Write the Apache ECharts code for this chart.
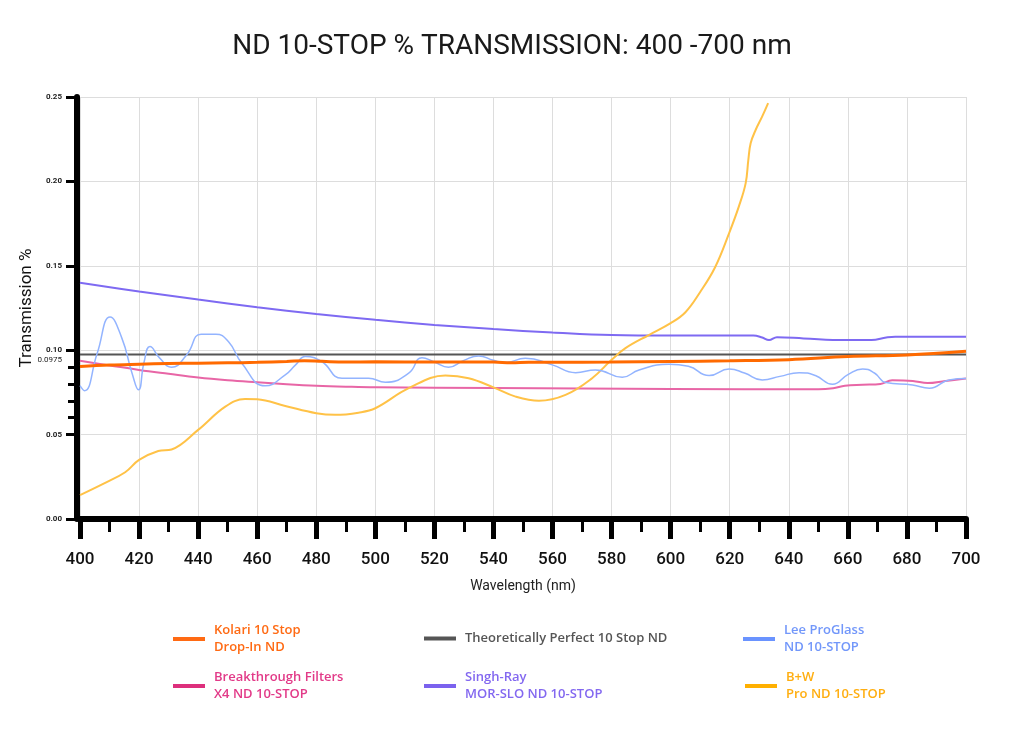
<!DOCTYPE html>
<html><head><meta charset="utf-8">
<script src="https://cdn.jsdelivr.net/npm/echarts@6/dist/echarts.min.js"></script>
<style>html,body{margin:0;padding:0;background:#fff}#c{width:1024px;height:750px}</style>
</head><body><div id="c"></div>
<script>
// ---- data ----
const titleText = 'ND 10-STOP % TRANSMISSION: 400 -700 nm';
const yTicks = [0, 0.05, 0.10, 0.15, 0.20, 0.25];
const yMinorTicks = [0.06, 0.07, 0.08, 0.09];
const perfectValue = 0.0975;

const kolariNm  = [400, 410, 420, 430, 440, 450, 460, 470, 476, 482, 490, 500, 520, 540, 546, 552, 560, 580, 600, 620, 640, 660, 680, 700];
const kolariVal = [0.0903, 0.0912, 0.0917, 0.0921, 0.0923, 0.0925, 0.0928, 0.0933, 0.0938, 0.0934, 0.0930, 0.0931, 0.0930, 0.0930, 0.0925, 0.0929, 0.0929, 0.0930, 0.0933, 0.0937, 0.0944, 0.0962, 0.0972, 0.0994];

const perfectNm  = [400, 700];
const perfectVal = [perfectValue, perfectValue];

const leeNm  = [400, 401.5, 405.8, 410.2, 414.2, 417.6, 419.8, 421.7, 423.7, 427, 431, 436.1, 441, 446, 450.3, 454.8, 462.7, 469.5, 473, 476.3, 481.8, 488.7, 497.7, 503.4, 511.3, 515.8, 520, 524.8, 530, 535, 540, 544.1, 550.8, 559.9, 567.8, 574.6, 583.6, 589.3, 599.4, 606, 613, 619.8, 625, 631, 637, 643.5, 649, 654.8, 660, 665, 669, 672.9, 681.9, 687.6, 694.3, 700];
const leeVal = [0.0790, 0.0760, 0.0980, 0.1196, 0.1070, 0.0865, 0.0765, 0.0930, 0.1022, 0.0953, 0.0899, 0.0972, 0.1095, 0.1095, 0.1050, 0.0923, 0.0789, 0.0854, 0.0913, 0.0962, 0.0933, 0.0834, 0.0834, 0.0810, 0.0864, 0.0956, 0.0930, 0.0899, 0.0940, 0.0966, 0.0940, 0.0927, 0.0953, 0.0913, 0.0867, 0.0883, 0.0840, 0.0883, 0.0917, 0.0905, 0.0850, 0.0889, 0.0865, 0.0824, 0.0845, 0.0867, 0.0850, 0.0798, 0.0855, 0.0889, 0.0865, 0.0808, 0.0794, 0.0775, 0.0824, 0.0832];

const breakNm  = [400, 410, 420, 430, 440, 450, 460, 470, 480, 490, 500, 540, 600, 650, 655, 659, 665, 671, 675, 682, 687, 693, 700];
const breakVal = [0.0937, 0.0910, 0.0883, 0.0860, 0.0838, 0.0822, 0.0810, 0.0799, 0.0790, 0.0784, 0.0780, 0.0776, 0.0770, 0.0769, 0.0775, 0.0789, 0.0795, 0.0800, 0.0822, 0.0818, 0.0805, 0.0818, 0.0832];

const singhNm  = [400, 420, 440, 460, 480, 500, 520, 540, 560, 580, 600, 628, 631, 633.3, 636, 645, 659, 668, 673, 676, 700];
const singhVal = [0.1400, 0.1348, 0.1300, 0.1255, 0.1215, 0.1180, 0.1150, 0.1125, 0.1105, 0.1090, 0.1087, 0.1087, 0.1075, 0.1060, 0.1077, 0.1070, 0.1060, 0.1060, 0.1075, 0.1080, 0.1080];

const bwNm  = [400, 408, 415.3, 420, 426.5, 431, 440, 449.2, 455.9, 460, 469.5, 480, 486.4, 494.3, 500, 511.3, 523.7, 531.6, 540, 547.5, 555.4, 564.4, 573.4, 580, 584.7, 592.6, 600, 605, 610, 615, 619.8, 623.1, 625.4, 626.3, 627.1, 628.8, 631, 633];
const bwVal = [0.0142, 0.0210, 0.0277, 0.0350, 0.0403, 0.0412, 0.0528, 0.0666, 0.0711, 0.0709, 0.0670, 0.0627, 0.0617, 0.0630, 0.0656, 0.0775, 0.0850, 0.0834, 0.0780, 0.0725, 0.0700, 0.0735, 0.0834, 0.0943, 0.1012, 0.1090, 0.1160, 0.1225, 0.1345, 0.1490, 0.1694, 0.1852, 0.1990, 0.2128, 0.2227, 0.2306, 0.2385, 0.2464];

const names = {
  kolari: 'Kolari 10 Stop\nDrop-In ND',
  perfect: 'Theoretically Perfect 10 Stop ND',
  lee: 'Lee ProGlass\nND 10-STOP',
  brk: 'Breakthrough Filters\nX4 ND 10-STOP',
  singh: 'Singh-Ray\nMOR-SLO ND 10-STOP',
  bw: 'B+W\nPro ND 10-STOP'
};

// ---- build ----
const pairs = (xs, ys) => xs.map((x, i) => [x, ys[i]]);
function line(name, xs, ys, color, width, smooth) {
  return {
    name, type: 'line', data: pairs(xs, ys), showSymbol: false, smooth: smooth,
    lineStyle: { color, width }, itemStyle: { color }, silent: true
  };
}
function legend(name, left, top, iconColor, textColor) {
  return {
    left, top, selectedMode: false, orient: 'horizontal',
    itemWidth: 32, itemHeight: 4, icon: 'rect', padding: 0,
    textStyle: { fontFamily: 'Open Sans', fontSize: 13, fontWeight: 600, lineHeight: 17, padding: [0, 0, 0, 4] },
    data: [{ name, icon: 'rect', itemStyle: { color: iconColor }, textStyle: { color: textColor } }]
  };
}

const chart = echarts.init(document.getElementById('c'), null, { renderer: 'canvas' });
chart.setOption({
  backgroundColor: '#fff',
  animation: false,
  title: {
    text: titleText, left: 'center', top: 28,
    textStyle: { fontFamily: 'Roboto', fontWeight: 'normal', fontSize: 28, color: '#1a1a1a' }
  },
  grid: { left: 80, right: 58, top: 97, bottom: 231 },
  legend: [
    legend(names.kolari, 173, 622, '#FF6A13', '#FF6A13'),
    legend(names.perfect, 424, 630, '#555555', '#555555'),
    legend(names.lee, 743, 622, '#6A93FF', '#7297FA'),
    legend(names.brk, 173, 669, '#DD2F7C', '#E23A88'),
    legend(names.singh, 424, 669, '#7B62EE', '#8368F0'),
    legend(names.bw, 745, 669, '#FFB000', '#FFAE10')
  ],
  xAxis: {
    type: 'value', min: 400, max: 700, interval: 20, offset: 3,
    name: 'Wavelength (nm)', nameLocation: 'middle', nameGap: 57,
    nameTextStyle: { fontFamily: 'Roboto', fontSize: 14, color: '#222' },
    axisLine: { show: true, lineStyle: { color: '#000', width: 6 } },
    axisTick: { show: true, length: 20, lineStyle: { color: '#000', width: 5 } },
    minorTick: { show: true, splitNumber: 2, length: 13, lineStyle: { color: '#000', width: 3 } },
    axisLabel: { fontFamily: 'Roboto', fontSize: 17, fontWeight: 500, color: '#111', margin: 29 },
    splitLine: { show: true, lineStyle: { color: '#dddddd', width: 1 } }
  },
  yAxis: [
    {
      type: 'value', min: 0, max: 0.25, interval: 0.05, offset: 3, position: 'left',
      name: 'Transmission %', nameLocation: 'middle', nameGap: 40,
      nameTextStyle: { fontFamily: 'Roboto', fontSize: 17, color: '#111' },
      axisLine: { show: true, lineStyle: { color: '#000', width: 6 } },
      axisTick: { show: true, length: 11, lineStyle: { color: '#000', width: 3 } },
      axisLabel: { fontFamily: 'Roboto', fontSize: 8, fontWeight: 'bold', color: '#222', margin: 15,
        customValues: yTicks, formatter: v => v.toFixed(2) },
      splitLine: { show: true, lineStyle: { color: '#dddddd', width: 1 } }
    },
    {
      type: 'value', min: 0, max: 0.25, offset: 3, position: 'left',
      axisLine: { show: false },
      splitLine: { show: false },
      axisTick: { show: true, length: 9, customValues: yMinorTicks, lineStyle: { color: '#000', width: 3 } },
      axisLabel: { show: true, customValues: [perfectValue], margin: 15,
        formatter: v => '{a|' + v.toString() + '}',
        rich: { a: { fontFamily: 'Roboto', fontSize: 8, color: '#222', padding: [12, 0, 0, 0] } } }
    }
  ],
  series: [
    line(names.perfect, perfectNm, perfectVal, '#555555', 2, false),
    line(names.brk, breakNm, breakVal, '#E866A6', 2, 0.4),
    line(names.singh, singhNm, singhVal, '#7E6AF2', 2, 0.4),
    line(names.bw, bwNm, bwVal, '#FFC247', 2, 0.4),
    line(names.lee, leeNm, leeVal, '#93B4FF', 1.5, 0.5),
    line(names.kolari, kolariNm, kolariVal, '#FF6A00', 3, 0.4)
  ]
});
</script></body></html>
